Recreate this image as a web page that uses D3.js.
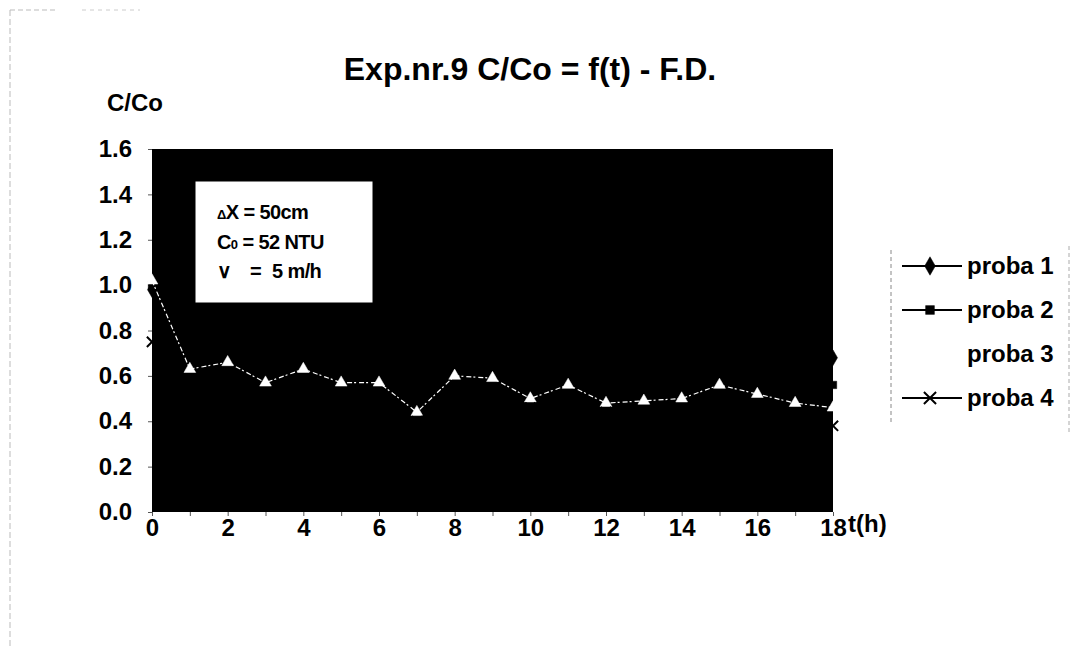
<!DOCTYPE html>
<html>
<head>
<meta charset="utf-8">
<script src="https://cdn.jsdelivr.net/npm/d3@7"></script>
<style>
  body { margin: 0; background: #fff; }
  text { font-family: Arial, "Liberation Sans", sans-serif; font-weight: bold; }
</style>
</head>
<body>
<div id="chart"></div>
<script>
const width = 1072, height = 652;

// time in hours
const hours = [0, 1, 2, 3, 4, 5, 6, 7, 8, 9, 10, 11, 12, 13, 14, 15, 16, 17, 18];
// C/Co per sample (proba 1, 2, 4 are black on the black plot area)
const proba1 = [0.98, 0.70, 0.72, 0.66, 0.70, 0.65, 0.64, 0.55, 0.68, 0.66, 0.60, 0.64, 0.58, 0.60, 0.60, 0.66, 0.64, 0.62, 0.68];
const proba2 = [1.00, 0.66, 0.68, 0.60, 0.64, 0.60, 0.60, 0.48, 0.62, 0.60, 0.54, 0.58, 0.52, 0.52, 0.54, 0.58, 0.56, 0.52, 0.56];
const proba3 = [1.02, 0.63, 0.66, 0.57, 0.63, 0.57, 0.57, 0.44, 0.60, 0.59, 0.50, 0.56, 0.48, 0.49, 0.50, 0.56, 0.52, 0.48, 0.46];
const proba4 = [0.75, 0.58, 0.60, 0.52, 0.56, 0.52, 0.52, 0.40, 0.54, 0.52, 0.46, 0.50, 0.44, 0.44, 0.44, 0.48, 0.46, 0.42, 0.38];
const seriesNames = ["proba 1", "proba 2", "proba 3", "proba 4"];
const yTicks = [0, 0.2, 0.4, 0.6, 0.8, 1.0, 1.2, 1.4, 1.6];
const xTicks = [0, 2, 4, 6, 8, 10, 12, 14, 16, 18];

const series = [
  { name: seriesNames[0], values: proba1, color: "#000", symbol: d3.symbolDiamond, size: 70 },
  { name: seriesNames[1], values: proba2, color: "#000", symbol: d3.symbolSquare, size: 55 },
  { name: seriesNames[2], values: proba3, color: "#fff", symbol: d3.symbolTriangle, size: 60 },
  { name: seriesNames[3], values: proba4, color: "#000", symbol: d3.symbolX || d3.symbolCross, size: 70 }
];

const plot = { left: 152, top: 149, right: 833, bottom: 512 };

const svg = d3.select("#chart").append("svg")
  .attr("width", width)
  .attr("height", height);

// faint scanned frame
svg.append("line").attr("x1", 10).attr("x2", 10).attr("y1", 10).attr("y2", 648)
  .attr("stroke", "#bbb").attr("stroke-dasharray", "6,3");
svg.append("line").attr("x1", 10).attr("x2", 55).attr("y1", 10).attr("y2", 10)
  .attr("stroke", "#bbb").attr("stroke-dasharray", "5,3");
svg.append("line").attr("x1", 82).attr("x2", 140).attr("y1", 10).attr("y2", 10)
  .attr("stroke", "#ccc").attr("stroke-dasharray", "4,4");

const x = d3.scaleLinear().domain([0, 18]).range([plot.left, plot.right]);
const y = d3.scaleLinear().domain([0, 1.6]).range([plot.bottom, plot.top]);

svg.append("rect")
  .attr("x", plot.left).attr("y", plot.top)
  .attr("width", plot.right - plot.left).attr("height", plot.bottom - plot.top)
  .attr("fill", "#000");

// axes
const yAxis = svg.append("g")
  .attr("transform", `translate(${plot.left},0)`)
  .call(d3.axisLeft(y).tickValues(yTicks).tickFormat(d3.format(".1f")).tickSize(4).tickPadding(16));
const xAxis = svg.append("g")
  .attr("transform", `translate(0,${plot.bottom})`)
  .call(d3.axisBottom(x).tickValues(hours).tickFormat(d => xTicks.includes(d) ? d : "").tickSize(4).tickPadding(3));
[yAxis, xAxis].forEach(g => {
  g.select(".domain").remove();
  g.selectAll(".tick line").attr("stroke", "#555");
  g.selectAll(".tick text").attr("font-size", 24).attr("fill", "#000")
    .style("font-family", "Arial, 'Liberation Sans', sans-serif").style("font-weight", "bold");
});

// title and axis titles
svg.append("text").attr("x", 530).attr("y", 80).attr("text-anchor", "middle")
  .attr("font-size", 32).text("Exp.nr.9 C/Co = f(t) - F.D.");
svg.append("text").attr("x", 107).attr("y", 111).attr("font-size", 24).text("C/Co");
svg.append("text").attr("x", 848).attr("y", 532).attr("font-size", 24).text("t(h)");

// series lines and markers
const line = d3.line().x((d, i) => x(hours[i])).y(d => y(d));
series.forEach(s => {
  svg.append("path").datum(s.values)
    .attr("d", line).attr("fill", "none")
    .attr("stroke", s.color).attr("stroke-width", s.color === "#fff" ? 1.2 : 1.5)
    .attr("stroke-dasharray", s.color === "#fff" ? "5,2,2,3" : null);
  svg.append("g").selectAll("path").data(s.values).join("path")
    .attr("transform", (d, i) => `translate(${x(hours[i])},${y(d)})`)
    .attr("d", d3.symbol().type(s.symbol).size(s.size))
    .attr("fill", s.symbol === d3.symbolX ? "none" : s.color)
    .attr("stroke", s.color)
    .attr("stroke-width", s.symbol === d3.symbolX ? 2 : 0.5);
});

// note box
const note = svg.append("g");
note.append("rect").attr("x", 195).attr("y", 181).attr("width", 178).attr("height", 122)
  .attr("fill", "#fff").attr("stroke", "#000");
const t1 = note.append("text").attr("y", 219).attr("font-size", 20).attr("letter-spacing", -0.6);
t1.append("tspan").attr("x", 217).attr("font-size", 13).text("\u0394");
t1.append("tspan").text("X = 50cm");
const t2 = note.append("text").attr("y", 249).attr("font-size", 20).attr("letter-spacing", -0.6);
t2.append("tspan").attr("x", 217).text("C");
t2.append("tspan").attr("font-size", 13).text("0");
t2.append("tspan").text(" = 52 NTU");
const t3 = note.append("text").attr("y", 278).attr("font-size", 20).attr("letter-spacing", -0.6);
t3.append("tspan").attr("x", 217).text("\u2228");
t3.append("tspan").attr("x", 250).text("=");
t3.append("tspan").attr("x", 272).text("5 m/h");

// legend
const legend = svg.append("g");
legend.append("line").attr("x1", 891).attr("x2", 891).attr("y1", 250).attr("y2", 425)
  .attr("stroke", "#888").attr("stroke-dasharray", "4,3");
legend.append("line").attr("x1", 1069).attr("x2", 1069).attr("y1", 246).attr("y2", 432)
  .attr("stroke", "#aaa").attr("stroke-dasharray", "4,3");
const legendY = d3.scalePoint().domain(seriesNames).range([266, 398]);
series.forEach(s => {
  const g = legend.append("g").attr("transform", `translate(0,${legendY(s.name)})`);
  g.append("line").attr("x1", 902).attr("x2", 962).attr("y1", 0).attr("y2", 0)
    .attr("stroke", s.color === "#fff" ? "#fff" : "#000").attr("stroke-width", 2);
  g.append("path").attr("transform", "translate(930,0)")
    .attr("d", d3.symbol().type(s.symbol).size(s.size * 1.4))
    .attr("fill", s.symbol === d3.symbolX ? "none" : (s.color === "#fff" ? "#fff" : "#000"))
    .attr("stroke", s.color === "#fff" ? "#fff" : "#000")
    .attr("stroke-width", s.symbol === d3.symbolX ? 2 : 0.5);
  g.append("text").attr("x", 967).attr("y", 8).attr("font-size", 24).text(s.name);
});
</script>
</body>
</html>
